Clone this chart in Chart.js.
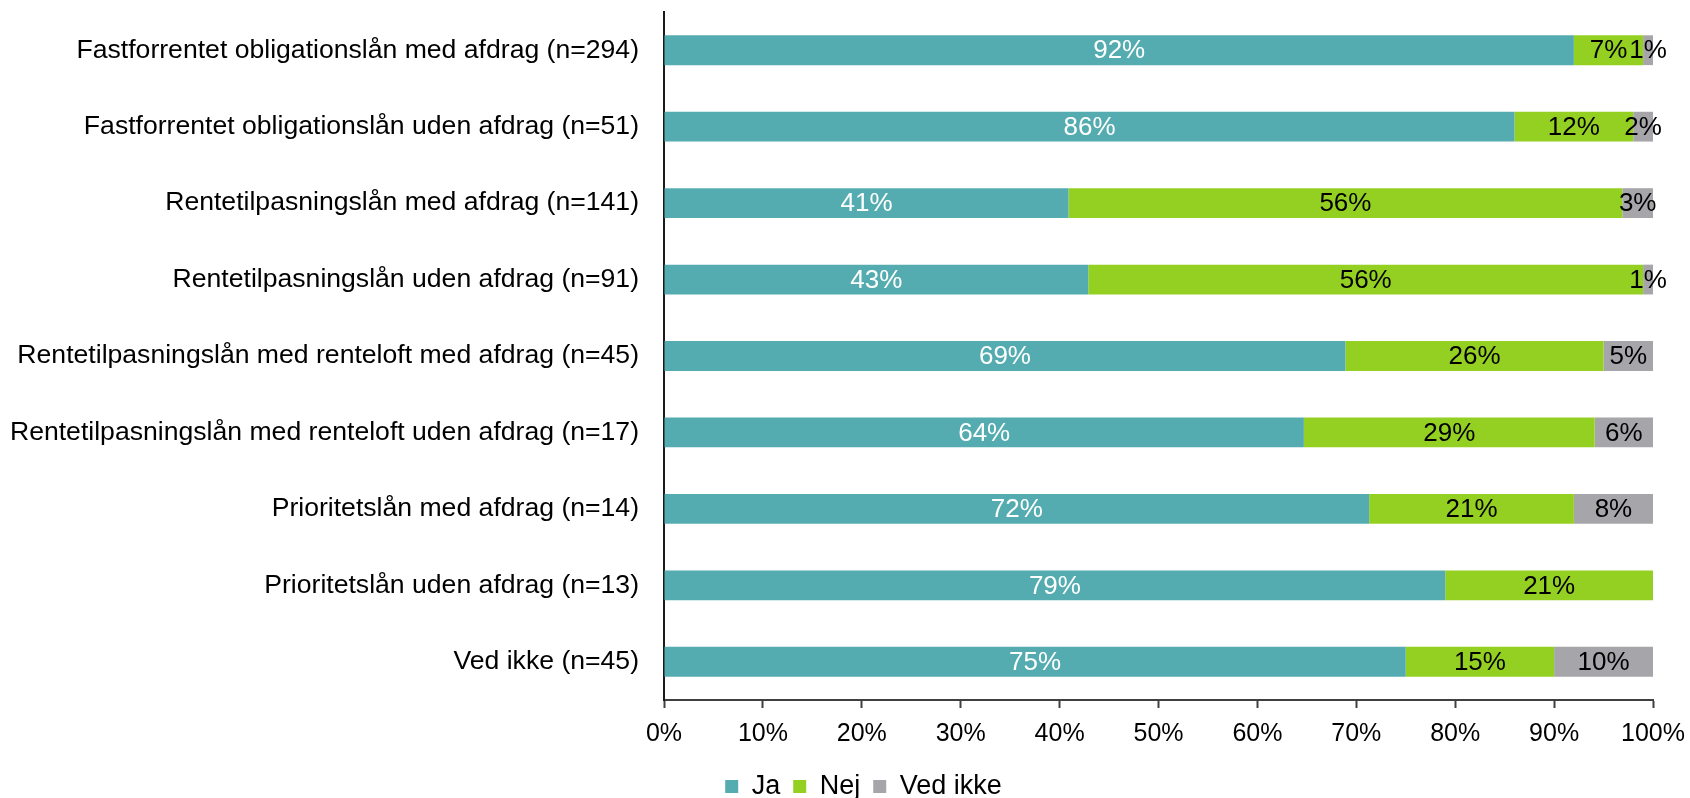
<!DOCTYPE html>
<html>
<head>
<meta charset="utf-8">
<script src="https://cdn.jsdelivr.net/npm/chart.js@4"></script>
<style>
  html, body { margin: 0; padding: 0; background: #fff; }
  #wrap { width: 1690px; height: 798px; }
</style>
</head>
<body>
<div id="wrap"><canvas id="myChart" width="1690" height="798"></canvas></div>
<script>
const categories = [
  "Fastforrentet obligationslån med afdrag (n=294)",
  "Fastforrentet obligationslån uden afdrag (n=51)",
  "Rentetilpasningslån med afdrag (n=141)",
  "Rentetilpasningslån uden afdrag (n=91)",
  "Rentetilpasningslån med renteloft med afdrag (n=45)",
  "Rentetilpasningslån med renteloft uden afdrag (n=17)",
  "Prioritetslån med afdrag (n=14)",
  "Prioritetslån uden afdrag (n=13)",
  "Ved ikke (n=45)"
];

// bar lengths (percent)
const jaValues      = [92, 86, 40.9, 42.9, 68.9, 64.7, 71.3, 79, 75];
const nejValues     = [7, 12, 56, 56.1, 26.1, 29.4, 20.7, 21, 15];
const vedIkkeValues = [1, 2, 3.1, 1.0, 5.0, 5.9, 8.0, 0, 10];

// printed labels on the bars
const jaText      = ["92%", "86%", "41%", "43%", "69%", "64%", "72%", "79%", "75%"];
const nejText     = ["7%", "12%", "56%", "56%", "26%", "29%", "21%", "21%", "15%"];
const vedIkkeText = ["1%", "2%", "3%", "1%", "5%", "6%", "8%", "", "10%"];

const xTicks = [0, 10, 20, 30, 40, 50, 60, 70, 80, 90, 100];

const FONT = "Arial, 'Liberation Sans', sans-serif";

const barLabels = {
  id: "barLabels",
  afterDatasetsDraw(chart) {
    const ctx = chart.ctx;
    ctx.save();
    ctx.font = "26px " + FONT;
    ctx.textAlign = "center";
    ctx.textBaseline = "middle";
    chart.data.datasets.forEach((ds, i) => {
      const meta = chart.getDatasetMeta(i);
      meta.data.forEach((bar, j) => {
        const txt = ds.valueText[j];
        if (!txt) return;
        ctx.fillStyle = ds.textColor;
        ctx.fillText(txt, (bar.x + bar.base) / 2, bar.y + 1);
      });
    });
    ctx.restore();
  }
};

// legend in the original sits a bit right of the page centre
const legendShift = {
  id: "legendShift",
  afterLayout(chart) {
    chart.legend.left += 37;
    chart.legend.right += 37;
  }
};

new Chart(document.getElementById("myChart"), {
  type: "bar",
  data: {
    labels: categories,
    datasets: [
      { label: "Ja", data: jaValues, valueText: jaText, textColor: "#ffffff",
        backgroundColor: "#54acb0" },
      { label: "Nej", data: nejValues, valueText: nejText, textColor: "#000000",
        backgroundColor: "#94d022" },
      { label: "Ved ikke", data: vedIkkeValues, valueText: vedIkkeText, textColor: "#000000",
        backgroundColor: "#a6a6aa" }
    ]
  },
  options: {
    indexAxis: "y",
    responsive: false,
    animation: false,
    datasets: {
      bar: { categoryPercentage: 1, barPercentage: 0.39, borderWidth: 0 }
    },
    layout: { padding: { top: 12, right: 37, left: 0, bottom: -12 } },
    plugins: {
      tooltip: { enabled: false },
      legend: {
        position: "bottom",
        labels: {
          boxWidth: 13,
          boxHeight: 13,
          padding: 13,
          color: "#000",
          font: { family: FONT, size: 27 }
        }
      }
    },
    scales: {
      x: {
        stacked: true,
        min: 0,
        max: 100,
        afterBuildTicks(scale) {
          scale.ticks = xTicks.map(v => ({ value: v }));
        },
        afterFit(scale) {
          scale.paddingLeft = 0;
          scale.paddingRight = 0;
        },
        grid: { drawOnChartArea: false, drawTicks: true, tickLength: 8, tickColor: "#404040", tickWidth: 2 },
        border: { color: "#404040", width: 2 },
        ticks: {
          color: "#000",
          padding: 11,
          maxRotation: 0,
          font: { family: FONT, size: 25 },
          callback: v => v + "%"
        }
      },
      y: {
        stacked: true,
        afterFit(scale) {
          scale.width = 664;
          scale.paddingTop = 0;
          scale.paddingBottom = 0;
        },
        grid: { display: false, drawTicks: true, tickLength: 25 },
        border: { color: "#1a1a1a", width: 2 },
        ticks: {
          color: "#000",
          padding: 0,
          font: { family: FONT, size: 26.6 }
        }
      }
    }
  },
  plugins: [barLabels, legendShift]
});
</script>
</body>
</html>
